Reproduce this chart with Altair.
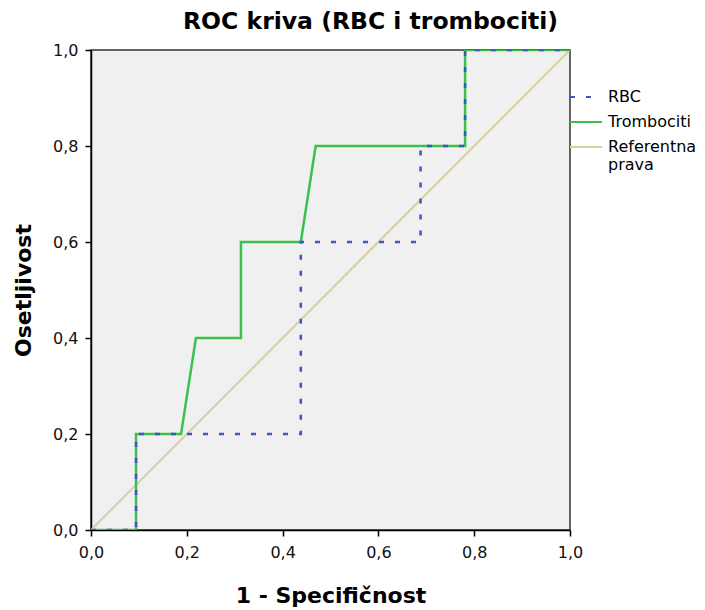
import altair as alt
import pandas as pd

series_order = ["RBC", "Trombociti", "Referentna prava"]

rbc_x = [0.0, 0.094, 0.094, 0.438, 0.438, 0.688, 0.688, 0.781, 0.781, 1.0]
rbc_y = [0.0, 0.0, 0.2, 0.2, 0.6, 0.6, 0.8, 0.8, 1.0, 1.0]

tromb_x = [0.0, 0.094, 0.094, 0.188, 0.219, 0.313, 0.313, 0.438, 0.469, 0.781, 0.781, 1.0]
tromb_y = [0.0, 0.0, 0.2, 0.2, 0.4, 0.4, 0.6, 0.6, 0.8, 0.8, 1.0, 1.0]

ref_x = [0.0, 1.0]
ref_y = [0.0, 1.0]

tick_values = [0.0, 0.2, 0.4, 0.6, 0.8, 1.0]

rows = []
for name, xs, ys in [("Referentna prava", ref_x, ref_y),
                     ("Trombociti", tromb_x, tromb_y),
                     ("RBC", rbc_x, rbc_y)]:
    for i, (x, y) in enumerate(zip(xs, ys)):
        rows.append({"series": name, "x": x, "y": y, "i": i})
df = pd.DataFrame(rows)

label_expr = "replace(format(datum.value, '.1f'), '.', ',')"

x_enc = alt.X("x:Q", scale=alt.Scale(domain=[0, 1], nice=False, zero=False),
              axis=alt.Axis(values=tick_values, labelExpr=label_expr,
                            title="1 - Specifičnost", titlePadding=25,
                            labelPadding=8, labelFlush=False))
y_enc = alt.Y("y:Q", scale=alt.Scale(domain=[0, 1], nice=False, zero=False),
              axis=alt.Axis(values=tick_values, labelExpr=label_expr,
                            title="Osetljivost", titlePadding=17,
                            labelPadding=7, labelFlush=False))

legend = alt.Legend(
    title=None, orient="none", legendX=478, legendY=30, symbolType="stroke",
    symbolSize=1024, symbolStrokeWidth=2, labelFont="DejaVu Sans",
    labelFontSize=16, labelColor="black", labelOffset=5, rowPadding=-2,
    labelLimit=200,
    labelExpr="datum.label == 'Referentna prava' ? ['Referentna', 'prava'] : datum.label")

color_enc = alt.Color("series:N", legend=legend,
                      scale=alt.Scale(domain=series_order,
                                      range=["#3d57c0", "#3dbf4c", "#d6d0a0"]))
dash_enc = alt.StrokeDash("series:N", legend=legend,
                          scale=alt.Scale(domain=series_order,
                                          range=[[5, 11], [1, 0], [1, 0]]))

def layer(name, w):
    return alt.Chart(df).transform_filter(alt.datum.series == name).mark_line(
        clip=True, strokeWidth=w).encode(
        x=x_enc, y=y_enc, color=color_enc, strokeDash=dash_enc,
        order=alt.Order("i:Q"))

chart = alt.layer(layer("Referentna prava", 2), layer("Trombociti", 2.5),
                  layer("RBC", 2.5)).properties(
    width=479, height=480,
    title=alt.TitleParams("ROC kriva (RBC i trombociti)", font="DejaVu Sans",
                          fontSize=23.5, fontWeight="bold", anchor="middle",
                          dx=40, offset=9, color="black"),
    autosize=alt.AutoSizeParams(type="none"),
    padding={"left": 83, "top": 42, "right": 127, "bottom": 78},
    background="white",
).configure_view(
    fill="#f0f0f0", stroke="#333333", strokeWidth=1.5
).configure_axis(
    grid=False, domainColor="black", domainWidth=1.5, tickColor="black",
    tickSize=6, tickWidth=1.5, labelFont="DejaVu Sans", labelFontSize=16,
    labelColor="#111111", titleFont="DejaVu Sans", titleFontSize=22,
    titleFontWeight="bold", titleColor="black"
)

chart.save("out.html", embed_options={"renderer": "svg", "actions": False})
